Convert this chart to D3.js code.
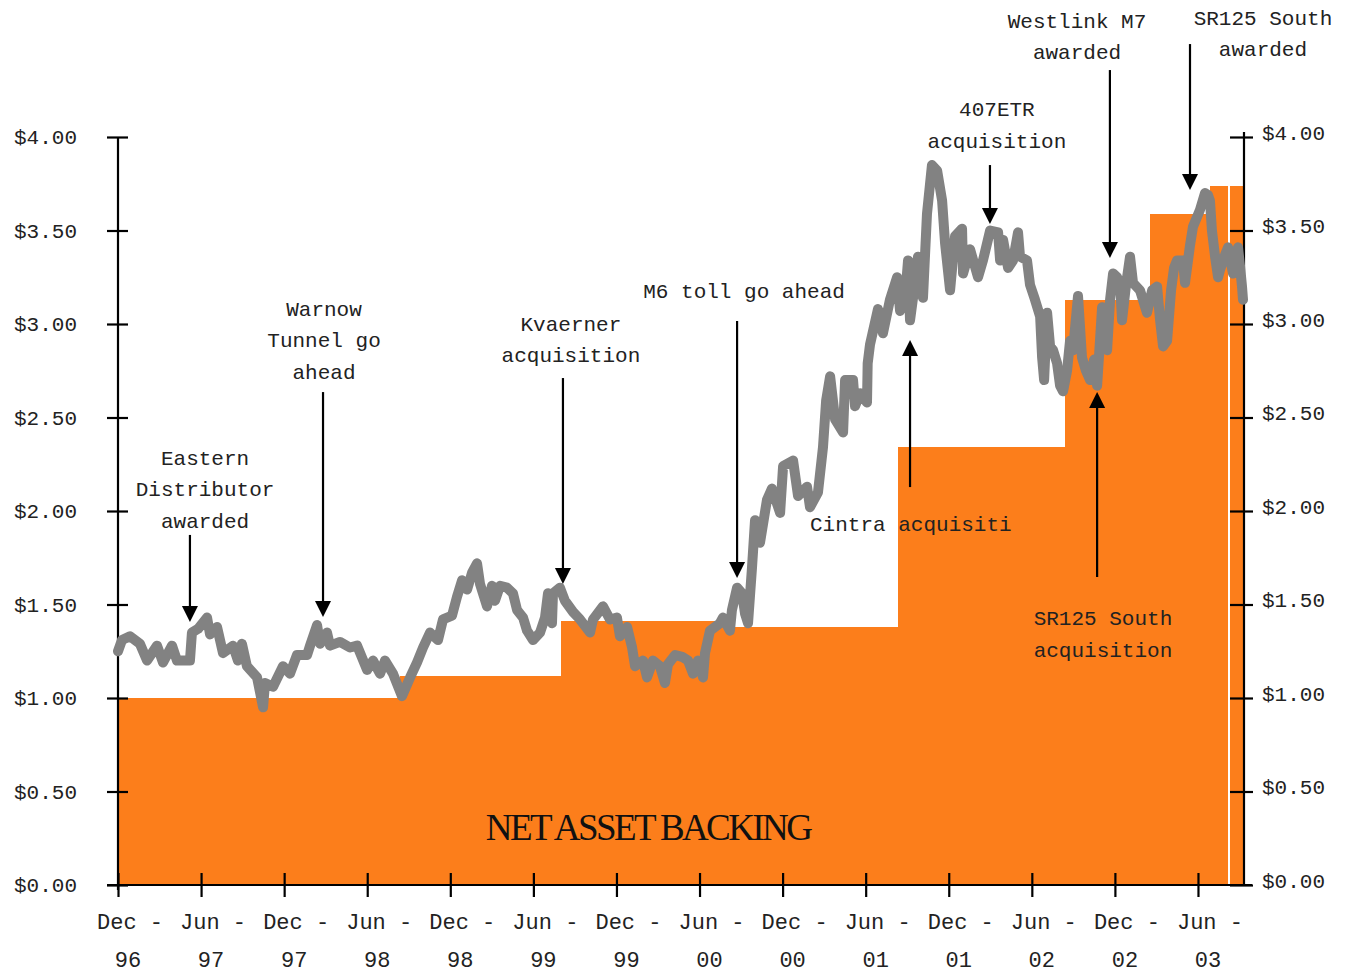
<!DOCTYPE html>
<html>
<head>
<meta charset="utf-8">
<script src="https://cdn.jsdelivr.net/npm/d3@7"></script>
<style>
  body { margin: 0; background: #fff; }
  svg { display: block; }
  .tick text { font-family: "Liberation Mono", monospace; }
</style>
</head>
<body>
<svg width="1354" height="973"></svg>
<script>
// half-year ticks (decimal years) and their two-line labels
const tickDates  = [1997, 1997.5, 1998, 1998.5, 1999, 1999.5, 2000, 2000.5, 2001, 2001.5, 2002, 2002.5, 2003, 2003.5];
const tickMonths = ["Dec", "Jun", "Dec", "Jun", "Dec", "Jun", "Dec", "Jun", "Dec", "Jun", "Dec", "Jun", "Dec", "Jun"];
const tickYears  = ["96", "97", "97", "98", "98", "99", "99", "00", "00", "01", "01", "02", "02", "03"];
const yTicks = [0, 0.5, 1, 1.5, 2, 2.5, 3, 3.5, 4];

// net asset backing steps: start of period and value
const nabStart = [1997.000, 1998.697, 1999.666, 2000.653, 2001.695, 2002.700, 2003.211, 2003.572, 2003.681];
const nabValue = [1.00, 1.12, 1.41, 1.38, 2.34, 3.13, 3.59, 3.74, 3.74];
const endDate = 2003.777;

// share price
const priceDate = [
  1997.000, 1997.024, 1997.072, 1997.132, 1997.175, 1997.235, 1997.271, 1997.325, 1997.355, 1997.433,
  1997.445, 1997.482, 1997.536, 1997.554, 1997.596, 1997.632, 1997.692, 1997.722, 1997.746, 1997.776,
  1997.837, 1997.873, 1997.885, 1997.933, 1997.993, 1998.035, 1998.077, 1998.138, 1998.156, 1998.198,
  1998.216, 1998.258, 1998.276, 1998.336, 1998.396, 1998.439, 1998.499, 1998.535, 1998.577, 1998.607,
  1998.655, 1998.709, 1998.758, 1998.800, 1998.836, 1998.878, 1998.926, 1998.956, 1999.010, 1999.040,
  1999.071, 1999.101, 1999.131, 1999.161, 1999.179, 1999.221, 1999.251, 1999.269, 1999.299, 1999.341,
  1999.377, 1999.402, 1999.438, 1999.462, 1999.498, 1999.540, 1999.570, 1999.588, 1999.612, 1999.618,
  1999.660, 1999.690, 1999.739, 1999.781, 1999.841, 1999.859, 1999.919, 1999.961, 2000.003, 2000.021,
  2000.064, 2000.094, 2000.112, 2000.160, 2000.184, 2000.220, 2000.262, 2000.292, 2000.310, 2000.353,
  2000.395, 2000.431, 2000.461, 2000.491, 2000.521, 2000.533, 2000.563, 2000.623, 2000.641, 2000.683,
  2000.695, 2000.726, 2000.756, 2000.774, 2000.792, 2000.816, 2000.834, 2000.864, 2000.906, 2000.936,
  2000.985, 2001.003, 2001.063, 2001.093, 2001.147, 2001.165, 2001.213, 2001.243, 2001.262, 2001.286,
  2001.316, 2001.364, 2001.376, 2001.424, 2001.436, 2001.466, 2001.508, 2001.512, 2001.526, 2001.574,
  2001.604, 2001.646, 2001.689, 2001.707, 2001.737, 2001.755, 2001.767, 2001.791, 2001.815, 2001.845,
  2001.869, 2001.899, 2001.930, 2001.960, 2001.978, 2002.008, 2002.038, 2002.080, 2002.086, 2002.128,
  2002.176, 2002.206, 2002.249, 2002.297, 2002.309, 2002.327, 2002.357, 2002.387, 2002.417, 2002.429,
  2002.471, 2002.489, 2002.519, 2002.550, 2002.562, 2002.574, 2002.592, 2002.610, 2002.628, 2002.652,
  2002.670, 2002.688, 2002.712, 2002.730, 2002.748, 2002.778, 2002.802, 2002.826, 2002.851, 2002.875,
  2002.893, 2002.923, 2002.953, 2002.971, 2002.989, 2003.013, 2003.031, 2003.043, 2003.067, 2003.091,
  2003.109, 2003.151, 2003.193, 2003.224, 2003.254, 2003.272, 2003.290, 2003.314, 2003.338, 2003.356,
  2003.374, 2003.410, 2003.422, 2003.452, 2003.470, 2003.512, 2003.542, 2003.560, 2003.572, 2003.584,
  2003.603, 2003.621, 2003.633, 2003.663, 2003.681, 2003.711, 2003.741, 2003.753, 2003.765, 2003.771
];
const priceValue = [
  1.25, 1.31, 1.33, 1.29, 1.20, 1.28, 1.19, 1.28, 1.20, 1.20,
  1.35, 1.37, 1.43, 1.34, 1.38, 1.24, 1.28, 1.20, 1.29, 1.17,
  1.11, 0.95, 1.08, 1.06, 1.17, 1.13, 1.23, 1.23, 1.28, 1.39,
  1.29, 1.35, 1.28, 1.30, 1.27, 1.28, 1.15, 1.20, 1.13, 1.20,
  1.13, 1.01, 1.11, 1.19, 1.27, 1.35, 1.31, 1.42, 1.44, 1.54,
  1.63, 1.58, 1.67, 1.72, 1.61, 1.49, 1.60, 1.52, 1.60, 1.59,
  1.56, 1.47, 1.43, 1.36, 1.31, 1.35, 1.43, 1.56, 1.40, 1.56,
  1.59, 1.52, 1.46, 1.42, 1.35, 1.42, 1.49, 1.42, 1.43, 1.33,
  1.38, 1.27, 1.17, 1.20, 1.11, 1.20, 1.17, 1.08, 1.18, 1.23,
  1.22, 1.20, 1.13, 1.20, 1.11, 1.24, 1.36, 1.40, 1.43, 1.36,
  1.47, 1.59, 1.56, 1.45, 1.40, 1.70, 1.95, 1.83, 2.06, 2.12,
  1.99, 2.24, 2.27, 2.08, 2.13, 2.02, 2.10, 2.34, 2.59, 2.72,
  2.49, 2.42, 2.70, 2.70, 2.56, 2.63, 2.58, 2.79, 2.89, 3.08,
  2.95, 3.13, 3.25, 3.07, 3.14, 3.34, 3.02, 3.18, 3.36, 3.14,
  3.59, 3.85, 3.82, 3.66, 3.43, 3.18, 3.47, 3.51, 3.27, 3.40,
  3.25, 3.34, 3.50, 3.49, 3.34, 3.45, 3.30, 3.34, 3.49, 3.36,
  3.34, 3.21, 3.13, 3.04, 2.82, 2.70, 3.06, 2.88, 2.86, 2.79,
  2.67, 2.64, 2.75, 2.91, 2.86, 3.15, 2.82, 2.75, 2.70, 2.81,
  2.67, 3.09, 2.86, 3.13, 3.27, 3.25, 3.22, 3.02, 3.21, 3.36,
  3.22, 3.18, 3.06, 3.18, 3.20, 3.02, 2.88, 2.91, 3.18, 3.30,
  3.34, 3.34, 3.22, 3.42, 3.52, 3.61, 3.70, 3.69, 3.66, 3.50,
  3.36, 3.25, 3.29, 3.37, 3.41, 3.27, 3.41, 3.31, 3.20, 3.13
];

// annotations: label position, arrow x, arrow tail and tip values
const noteLines = [
  ["Eastern", "Distributor", "awarded"],
  ["Warnow", "Tunnel go", "ahead"],
  ["Kvaerner", "acquisition"],
  ["M6 toll go ahead"],
  ["407ETR", "acquisition"],
  ["Westlink M7", "awarded"],
  ["SR125 South", "awarded"],
  ["Cintra acquisiti"],
  ["SR125 South", "acquisition"]
];
const noteX     = [1997.524, 1998.240, 1999.726, 2000.768, 2002.290, 2002.772, 2003.891, 2001.165, 2002.928];
const noteY     = [2.246, 3.043, 2.963, 3.139, 4.112, 4.583, 4.599, 1.893, 1.390];
const noteAlign = ["middle", "middle", "middle", "middle", "middle", "middle", "middle", "start", "middle"];
const arrowX    = [1997.433, 1998.234, 1999.678, 2000.726, 2002.248, 2002.970, 2003.452, 2001.767, 2002.893];
const arrowFrom = [1.872, 2.636, 2.711, 3.016, 3.850, 4.358, 4.497, 2.128, 1.647];
const arrowTo   = [1.406, 1.433, 1.610, 1.642, 3.535, 3.353, 3.717, 2.914, 2.636];

const svg = d3.select("svg");
const x = d3.scaleLinear().domain([1997, endDate]).range([118, 1244]);
const y = d3.scaleLinear().domain([0, 4]).range([885, 137]);
const orange = "#fc7e1b";

// net asset backing blocks
const nab = nabStart.map((s, i) => ({
  start: s, end: i < nabStart.length - 1 ? nabStart[i + 1] : endDate, value: nabValue[i], last: i === nabStart.length - 1
}));
svg.append("g").selectAll("rect")
  .data(nab)
  .join("rect")
  .attr("x", d => x(d.start) + (d.last ? 1.5 : 0))
  .attr("y", d => y(d.value))
  .attr("width", d => x(d.end) - x(d.start) - (d.last ? 1.5 : 0))
  .attr("height", d => y(0) - y(d.value))
  .attr("fill", orange)
  .attr("shape-rendering", "crispEdges");

svg.append("text")
  .attr("x", x(2000.19))
  .attr("y", y(0.24))
  .attr("text-anchor", "middle")
  .attr("font-family", "Liberation Serif, serif")
  .attr("font-size", 37)
  .attr("letter-spacing", -2.6)
  .attr("fill", "#111")
  .text("NET ASSET BACKING");

// axes
const fmt = v => "$" + d3.format(".2f")(v);

const left = svg.append("g")
  .attr("transform", `translate(${x(1997)},0)`)
  .call(d3.axisLeft(y).tickValues(yTicks).tickFormat(fmt).tickSize(11).tickSizeOuter(0).tickPadding(30));
left.selectAll(".tick line").attr("x1", 10);
left.selectAll(".tick text").attr("font-size", 21).attr("fill", "#222");
left.select(".domain").attr("d", `M0,${y(4)}V${y(0) + 5}`);

const right = svg.append("g")
  .attr("transform", `translate(${x(endDate)},0)`)
  .call(d3.axisRight(y).tickValues(yTicks).tickFormat(fmt).tickSize(9).tickSizeOuter(0).tickPadding(9));
right.selectAll(".tick line").attr("x1", -14);
right.selectAll(".tick text").attr("font-size", 21).attr("fill", "#222").attr("dy", "0.1em");
right.select(".domain").attr("d", `M0,${y(4) - 5}V${y(0)}`);

const bottom = svg.append("g")
  .attr("transform", `translate(0,${y(0)})`)
  .call(d3.axisBottom(x).tickValues(tickDates).tickFormat("").tickSize(12).tickSizeOuter(0));
bottom.selectAll(".tick line").attr("y1", -12);
bottom.select(".domain").attr("d", `M${x(1997) - 11},0H${x(endDate) + 8}`);

svg.selectAll(".domain, .tick line").attr("stroke", "#000").attr("stroke-width", 2.2);

const labels = svg.append("g")
  .attr("font-family", "Liberation Mono, monospace")
  .attr("font-size", 22)
  .attr("fill", "#222")
  .attr("text-anchor", "middle");
labels.selectAll("text.m")
  .data(tickDates)
  .join("text")
  .attr("class", "m")
  .attr("x", d => x(d) + 12)
  .attr("y", y(0) + 44)
  .text((d, i) => tickMonths[i] + " -");
labels.selectAll("text.yr")
  .data(tickDates)
  .join("text")
  .attr("class", "yr")
  .attr("x", d => x(d) + 10)
  .attr("y", y(0) + 82)
  .text((d, i) => tickYears[i]);

// share price line
const price = priceDate.map((d, i) => ({date: d, value: priceValue[i]}));
svg.append("path")
  .datum(price)
  .attr("fill", "none")
  .attr("stroke", "#828282")
  .attr("stroke-width", 10)
  .attr("stroke-linejoin", "round")
  .attr("stroke-linecap", "round")
  .attr("d", d3.line().x(d => x(d.date)).y(d => y(d.value)));

// annotations
const notes = noteLines.map((lines, i) => ({
  lines, tx: noteX[i], ty: noteY[i], anchor: noteAlign[i], ax: arrowX[i], from: arrowFrom[i], to: arrowTo[i]
}));
const ng = svg.append("g");
notes.forEach(n => {
  const t = ng.append("text")
    .attr("x", x(n.tx))
    .attr("y", y(n.ty))
    .attr("text-anchor", n.anchor)
    .attr("font-family", "Liberation Mono, monospace")
    .attr("font-size", 21)
    .attr("fill", "#222");
  n.lines.forEach((l, j) => {
    t.append("tspan").attr("x", x(n.tx)).attr("dy", j === 0 ? 0 : 31.5).text(l);
  });
  const dir = n.to < n.from ? 1 : -1;   // 1 = pointing down
  const tipY = y(n.to);
  ng.append("line")
    .attr("x1", x(n.ax)).attr("x2", x(n.ax))
    .attr("y1", y(n.from)).attr("y2", tipY - dir * 10)
    .attr("stroke", "#000").attr("stroke-width", 2.2);
  ng.append("path")
    .attr("d", `M${x(n.ax)},${tipY}L${x(n.ax) - 8},${tipY - dir * 16}L${x(n.ax) + 8},${tipY - dir * 16}Z`)
    .attr("fill", "#000");
});
</script>
</body>
</html>
